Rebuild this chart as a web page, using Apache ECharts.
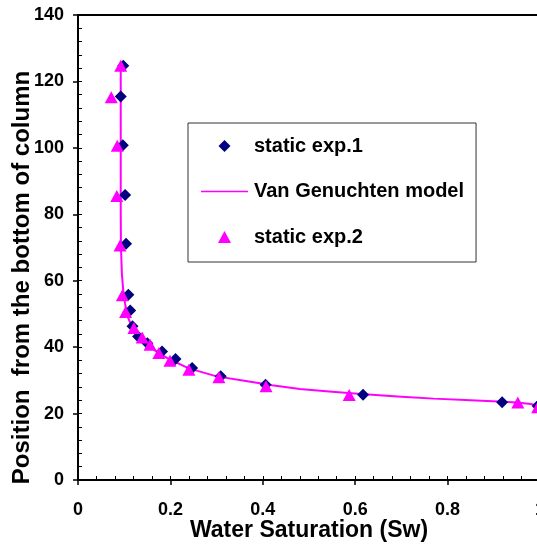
<!DOCTYPE html>
<html>
<head>
<meta charset="utf-8">
<script src="https://cdn.jsdelivr.net/npm/echarts@6/dist/echarts.min.js"></script>
<style>
  html, body { margin: 0; padding: 0; background: #fff; }
  #chart { width: 537px; height: 544px; }
</style>
</head>
<body>
<div id="chart"></div>
<script>
// Water saturation (Sw) vs. position above the column bottom (cm)
const exp1Sw  = [0.098, 0.0925, 0.097, 0.102, 0.104, 0.109, 0.113, 0.118, 0.130, 0.150, 0.182, 0.211, 0.247, 0.309, 0.406, 0.617, 0.918, 0.995];
const exp1Pos = [124.7, 115.5, 100.8, 85.8, 71.1, 55.8, 51.0, 46.3, 43.2, 41.2, 38.7, 36.4, 33.7, 31.2, 28.7, 25.7, 23.4, 22.3];

const exp2Sw  = [0.0925, 0.072, 0.085, 0.084, 0.091, 0.096, 0.103, 0.121, 0.139, 0.156, 0.175, 0.199, 0.240, 0.305, 0.407, 0.587, 0.952, 0.995];
const exp2Pos = [124.7, 115.2, 100.6, 85.5, 70.6, 55.6, 50.6, 45.8, 42.9, 40.7, 38.2, 35.9, 33.2, 30.9, 28.2, 25.6, 23.3, 21.9];

const modelSw  = [0.0925, 0.0925, 0.0925, 0.0925, 0.093, 0.095, 0.098, 0.102, 0.108, 0.117, 0.130, 0.150, 0.175, 0.200, 0.240, 0.300, 0.360, 0.420, 0.480, 0.550, 0.620, 0.700, 0.770, 0.850, 0.910, 0.950, 0.980, 1.000];
const modelPos = [125, 110, 95, 80, 70, 62, 57, 53, 49, 46, 43.2, 40.6, 38.2, 36.2, 33.6, 31.2, 29.9, 28.5, 27.4, 26.6, 25.8, 25.1, 24.5, 24.0, 23.6, 23.3, 22.9, 22.2];

const seriesNames = ['static exp.1', 'Van Genuchten model', 'static exp.2'];

const pairs = (xs, ys) => xs.map((x, i) => [x, ys[i]]);

const FONT = '"Liberation Sans", Arial, sans-serif';
const NAVY = '#000080';
const MAGENTA = '#FF00FF';

const chart = echarts.init(document.getElementById('chart'), null, { renderer: 'canvas' });

chart.setOption({
  animation: false,
  backgroundColor: '#fff',
  grid: {
    left: 78, top: 15, right: -3, bottom: 64,
    containLabel: false, outerBoundsMode: 'none',
    show: true, borderColor: '#000', borderWidth: 2, backgroundColor: 'transparent'
  },
  legend: {
    orient: 'vertical',
    left: 188, top: 123,
    padding: [13, 12, 15, 13],
    itemWidth: 47, itemHeight: 12, itemGap: 25.5,
    symbolKeepAspect: true,
    backgroundColor: '#fff',
    borderColor: '#333', borderWidth: 1, borderRadius: 0,
    textStyle: { fontFamily: FONT, fontWeight: 'bold', fontSize: 20, color: '#000', padding: [0, 0, 0, 1] },
    data: [
      { name: seriesNames[0], icon: 'path://M0,6L6,0L12,6L6,12Z', itemStyle: { color: NAVY, opacity: 1 } },
      { name: seriesNames[1], icon: 'path://M0,0H47V1.5H0Z', itemStyle: { color: MAGENTA } },
      { name: seriesNames[2], icon: 'path://M6.5,0L13,12L0,12Z', itemStyle: { color: MAGENTA, opacity: 1 } }
    ]
  },
  xAxis: [
    {
      type: 'value', min: 0, max: 1, interval: 0.2,
      name: 'Water Saturation (Sw)', nameLocation: 'middle', nameGap: 39,
      nameMoveOverlap: false,
      nameTextStyle: { fontFamily: FONT, fontWeight: 'bold', fontSize: 23, color: '#000' },
      axisLine: { show: true, onZero: false, lineStyle: { color: '#000', width: 2 } },
      axisTick: { show: true, inside: false, length: 5, lineStyle: { color: '#000', width: 1.5 } },
      axisLabel: { fontFamily: FONT, fontWeight: 'bold', fontSize: 18, color: '#000', margin: 21 },
      splitLine: { show: false }
    },
    {
      // inner minor ticks
      type: 'value', min: 0, max: 1, interval: 0.04, position: 'bottom',
      axisLine: { show: false },
      axisTick: { show: true, inside: true, length: 4, lineStyle: { color: '#000', width: 1 } },
      axisLabel: { show: false },
      splitLine: { show: false }
    }
  ],
  yAxis: [
    {
      type: 'value', min: 0, max: 140, interval: 20,
      name: 'Position  from the bottom of column', nameLocation: 'middle', nameGap: 44,
      nameMoveOverlap: false,
      nameTextStyle: { fontFamily: FONT, fontWeight: 'bold', fontSize: 24, color: '#000', padding: [0, 60, 0, 0] },
      axisLine: { show: true, onZero: false, lineStyle: { color: '#000', width: 2 } },
      axisTick: { show: true, inside: false, length: 5, lineStyle: { color: '#000', width: 1.5 } },
      axisLabel: { fontFamily: FONT, fontWeight: 'bold', fontSize: 18, color: '#000', margin: 14 },
      splitLine: { show: false }
    },
    {
      type: 'value', min: 0, max: 140, interval: 4, position: 'left',
      axisLine: { show: false },
      axisTick: { show: true, inside: true, length: 4, lineStyle: { color: '#000', width: 1 } },
      axisLabel: { show: false },
      splitLine: { show: false }
    }
  ],
  series: [
    {
      name: seriesNames[1], type: 'line', xAxisIndex: 0, yAxisIndex: 0,
      data: pairs(modelSw, modelPos),
      symbol: 'none', smooth: false,
      lineStyle: { color: MAGENTA, width: 2 },
      itemStyle: { color: MAGENTA },
      z: 2
    },
    {
      name: seriesNames[0], type: 'scatter', xAxisIndex: 0, yAxisIndex: 0,
      data: pairs(exp1Sw, exp1Pos),
      symbol: 'diamond', symbolSize: [12, 12],
      itemStyle: { color: NAVY, opacity: 1 },
      z: 3
    },
    {
      name: seriesNames[2], type: 'scatter', xAxisIndex: 0, yAxisIndex: 0,
      data: pairs(exp2Sw, exp2Pos),
      symbol: 'triangle', symbolSize: [13, 12],
      itemStyle: { color: MAGENTA, opacity: 1 },
      z: 4
    }
  ]
});
</script>
</body>
</html>
